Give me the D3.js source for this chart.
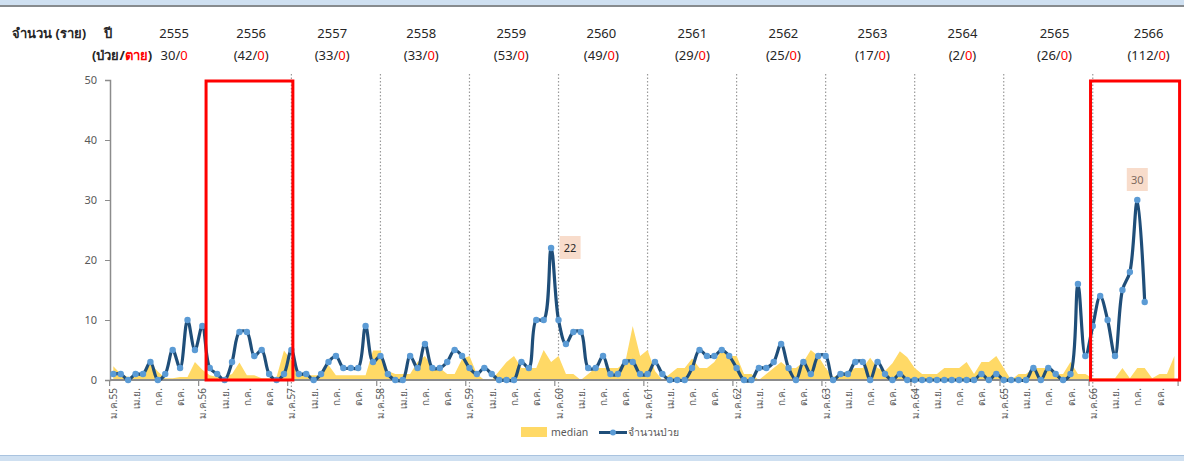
<!DOCTYPE html>
<html>
<head>
<meta charset="utf-8">
<script src="https://cdn.jsdelivr.net/npm/d3@7"></script>
<style>
  body { margin: 0; background: #fff; }
  svg { display: block; font-family: "Noto Sans", "DejaVu Sans", sans-serif; }
</style>
</head>
<body>
<svg id="chart" width="1184" height="461"></svg>
<script>
// years shown in the header table, with patients / deaths per year
const years = [2555, 2556, 2557, 2558, 2559, 2560, 2561, 2562, 2563, 2564, 2565, 2566];
const yearCases = [30, 42, 33, 33, 53, 49, 29, 25, 17, 2, 26, 112];
const yearDeaths = [0, 0, 0, 0, 0, 0, 0, 0, 0, 0, 0, 0];

const monthNames = ['ม.ค.', 'ก.พ.', 'มี.ค.', 'เม.ย.', 'พ.ค.', 'มิ.ย.', 'ก.ค.', 'ส.ค.', 'ก.ย.', 'ต.ค.', 'พ.ย.', 'ธ.ค.'];

// monthly patients (จำนวนป่วย), Jan 2555 .. Aug 2566
const cases = [
  1, 1, 0, 1, 1, 3, 0, 1, 5, 2, 10, 5,
  9, 2, 1, 0, 3, 8, 8, 4, 5, 1, 0, 1,
  5, 1, 1, 0, 1, 3, 4, 2, 2, 2, 9, 3,
  4, 1, 0, 0, 4, 2, 6, 2, 2, 3, 5, 4,
  2, 1, 2, 1, 0, 0, 0, 3, 2, 10, 10, 22,
  10, 6, 8, 8, 2, 2, 4, 1, 1, 3, 3, 1,
  1, 3, 1, 0, 0, 0, 2, 5, 4, 4, 5, 4,
  2, 0, 0, 2, 2, 3, 6, 2, 0, 3, 1, 4,
  4, 0, 1, 1, 3, 3, 0, 3, 1, 0, 1, 0,
  0, 0, 0, 0, 0, 0, 0, 0, 0, 1, 0, 1,
  0, 0, 0, 0, 2, 0, 2, 1, 0, 1, 16, 4,
  9, 14, 10, 4, 15, 18, 30, 13
];

// monthly median, Jan 2555 .. Dec 2566
const median = [
  2.3, 1, 0.5, 0.8, 0.8, 2.8, 1.4, 0.3, 0.3, 0.5, 0.5, 3,
  1.7, 0.8, 0.5, 0.5, 1, 2.9, 0.8, 0.8, 0.3, 0.3, 0.5, 4.9,
  3.3, 0.8, 0.8, 0.8, 0.8, 2.5, 0.8, 0.8, 0.8, 0.8, 0.8, 4.9,
  4.9, 1.5, 1, 1, 1, 3, 4, 2, 2, 1, 1, 3.5,
  4, 1, 0, 0, 1.5, 3, 4, 2, 2, 2, 5, 3,
  4, 1, 1, 0, 1, 2, 2, 2, 2, 3, 9, 4,
  5, 1.5, 0, 1, 2, 2, 3.6, 2, 2, 3, 5, 4,
  4, 1, 1, 0, 1, 2, 3, 2, 2, 3, 5, 4,
  2, 0.5, 1, 1.5, 2, 2, 3.7, 2, 1.5, 2.8, 4.8, 3.8,
  2, 1, 1, 1, 2, 2, 2, 3, 1, 3, 3, 4,
  2, 0, 1, 1, 2, 2, 2, 1, 1, 3, 1, 1,
  0.3, 0.3, 0.3, 0.3, 2, 0.3, 2, 2, 0.3, 1, 1, 4
];

// labelled peaks (month index) and highlighted periods [from, to] in month index
const callouts = [59, 138];
const highlights = [[12.5, 24.2], [131.7, 143.7]];

const yTicks = [0, 10, 20, 30, 40, 50];

const nMonths = years.length * 12;
const svg = d3.select('#chart');

const x = d3.scaleBand()
  .domain(d3.range(nMonths))
  .range([109.6, 1178.1]);
const bw = x.bandwidth();
const cx = i => x(i) + bw / 2;
// continuous month position, for boxes that sit between points
const xi = d3.scaleLinear().domain([0, nMonths - 1]).range([cx(0), cx(nMonths - 1)]);

const y = d3.scaleLinear().domain([0, 50]).range([380, 80]);

// frame bands top / bottom
svg.append('rect').attr('x', 0).attr('y', 0).attr('width', 1184).attr('height', 5).attr('fill', '#cfe0f1');
svg.append('line').attr('x1', 0).attr('x2', 1184).attr('y1', 6).attr('y2', 6)
  .attr('stroke', '#5f6468').attr('stroke-width', 1.5);
svg.append('rect').attr('x', 0).attr('y', 456).attr('width', 1184).attr('height', 5).attr('fill', '#cfe0f1');
svg.append('line').attr('x1', 0).attr('x2', 1184).attr('y1', 455.5).attr('y2', 455.5)
  .attr('stroke', '#a9c3df').attr('stroke-width', 1);

// header table
const head = svg.append('g').attr('fill', '#262626').attr('font-size', 13);
head.append('text').attr('x', 12).attr('y', 38).attr('font-weight', 'bold').text('จำนวน (ราย)');
head.append('text').attr('x', 104).attr('y', 38).attr('font-weight', 'bold').text('ปี');
const who = head.append('text').attr('x', 92).attr('y', 60).attr('font-weight', 'bold');
who.append('tspan').text('(ป่วย/');
who.append('tspan').attr('fill', '#ff0000').text('ตาย');
who.append('tspan').text(')');

const headerNudge = [20, 8, 0, 0, 1, 2, 4, 6, 6, 7, 10, 15];
const hx = i => x(i * 12 + 6) + headerNudge[i];

head.selectAll('.yr')
  .data(years)
  .enter()
  .append('text')
  .attr('class', 'yr')
  .attr('x', (d, i) => hx(i))
  .attr('y', 38)
  .attr('text-anchor', 'middle')
  .text(d => d);

const counts = head.selectAll('.cnt')
  .data(years)
  .enter()
  .append('text')
  .attr('class', 'cnt')
  .attr('x', (d, i) => hx(i))
  .attr('y', 60)
  .attr('text-anchor', 'middle');
counts.append('tspan').text((d, i) => (i === 0 ? '' : '(') + yearCases[i] + '/');
counts.append('tspan').attr('fill', '#ff0000').text((d, i) => yearDeaths[i]);
counts.append('tspan').text((d, i) => (i === 0 ? '' : ')'));

// dotted year separators (from 2557 on)
svg.selectAll('.sep')
  .data(d3.range(2, years.length))
  .enter()
  .append('line')
  .attr('x1', d => cx(d * 12))
  .attr('x2', d => cx(d * 12))
  .attr('y1', 74)
  .attr('y2', 396)
  .attr('stroke', '#9a9a9a')
  .attr('stroke-width', 1.2)
  .attr('stroke-dasharray', '1.5,2');

// median area
const area = d3.area()
  .x((d, i) => cx(i))
  .y0(y(0))
  .y1(d => y(d));
svg.append('path')
  .datum(median)
  .attr('d', area)
  .attr('fill', '#ffd966');

// y axis
const yAxis = d3.axisLeft(y).tickValues(yTicks).tickSize(5).tickPadding(8);
const ga = svg.append('g')
  .attr('transform', 'translate(110,0)')
  .call(yAxis);
ga.select('.domain').attr('stroke', '#8c8c8c').attr('stroke-width', 1.5);
ga.selectAll('.tick line').attr('stroke', '#8c8c8c');
ga.selectAll('.tick text').attr('fill', '#595959').attr('font-size', 11)
  .attr('font-family', '"Noto Sans", sans-serif');

// x axis baseline, year ticks and month labels
svg.append('line')
  .attr('x1', 110).attr('x2', 1179)
  .attr('y1', y(0)).attr('y2', y(0))
  .attr('stroke', '#8c8c8c').attr('stroke-width', 1.8);

svg.selectAll('.xtick')
  .data(d3.range(0, nMonths + 1, 12))
  .enter()
  .append('line')
  .attr('x1', d => (d < nMonths ? x(d) : x(nMonths - 1) + bw))
  .attr('x2', d => (d < nMonths ? x(d) : x(nMonths - 1) + bw))
  .attr('y1', y(0))
  .attr('y2', y(0) + 6)
  .attr('stroke', '#8c8c8c')
  .attr('stroke-width', 1.2);

svg.selectAll('.xlab')
  .data(d3.range(0, nMonths, 3))
  .enter()
  .append('text')
  .attr('transform', d => `translate(${cx(d) + 4},388) rotate(-90)`)
  .attr('text-anchor', 'end')
  .attr('fill', '#595959')
  .attr('font-size', 10)
  .text(d => monthNames[d % 12] + (d % 12 === 0 ? String(years[d / 12]).slice(2) : ''));

// patients line
const line = d3.line()
  .x((d, i) => cx(i))
  .y(d => y(d))
  .curve(d3.curveCatmullRom.alpha(0.5));
svg.append('path')
  .datum(cases)
  .attr('d', line)
  .attr('fill', 'none')
  .attr('stroke', '#1f4e79')
  .attr('stroke-width', 3.2);

svg.selectAll('.pt')
  .data(cases)
  .enter()
  .append('circle')
  .attr('cx', (d, i) => cx(i))
  .attr('cy', d => y(d))
  .attr('r', 3.2)
  .attr('fill', '#5b9bd5');

// data callouts
const co = svg.selectAll('.callout')
  .data(callouts)
  .enter()
  .append('g')
  .attr('transform', (d, i) => i === 0
    ? `translate(${cx(d) + 19},${y(cases[d])})`
    : `translate(${cx(d)},${y(cases[d]) - 20})`);
co.append('rect')
  .attr('x', -10.5).attr('y', -12)
  .attr('width', 21).attr('height', 23)
  .attr('fill', '#f8dccb');
co.append('text')
  .attr('text-anchor', 'middle')
  .attr('dy', '0.35em')
  .attr('font-size', 11)
  .attr('fill', (d, i) => (i === 0 ? '#262626' : '#7f6a5e'))
  .text(d => cases[d]);

// red highlight boxes
svg.selectAll('.hl')
  .data(highlights)
  .enter()
  .append('rect')
  .attr('x', d => xi(d[0]))
  .attr('y', 81)
  .attr('width', d => xi(d[1]) - xi(d[0]))
  .attr('height', y(0) - 81)
  .attr('fill', 'none')
  .attr('stroke', '#ff0000')
  .attr('stroke-width', 3);

// legend
const legend = svg.append('g').attr('transform', 'translate(521,432)');
legend.append('rect').attr('x', 0).attr('y', -5).attr('width', 26).attr('height', 10).attr('fill', '#ffd966');
legend.append('text').attr('x', 30).attr('y', 4).attr('font-size', 10.5).attr('fill', '#595959').text('median');
legend.append('line').attr('x1', 78).attr('x2', 106).attr('y1', 0.5).attr('y2', 0.5)
  .attr('stroke', '#1f4e79').attr('stroke-width', 3);
legend.append('circle').attr('cx', 92).attr('cy', 0.5).attr('r', 3).attr('fill', '#5b9bd5');
legend.append('text').attr('x', 107).attr('y', 4).attr('font-size', 10.5).attr('fill', '#595959').text('จำนวนป่วย');
</script>
</body>
</html>
